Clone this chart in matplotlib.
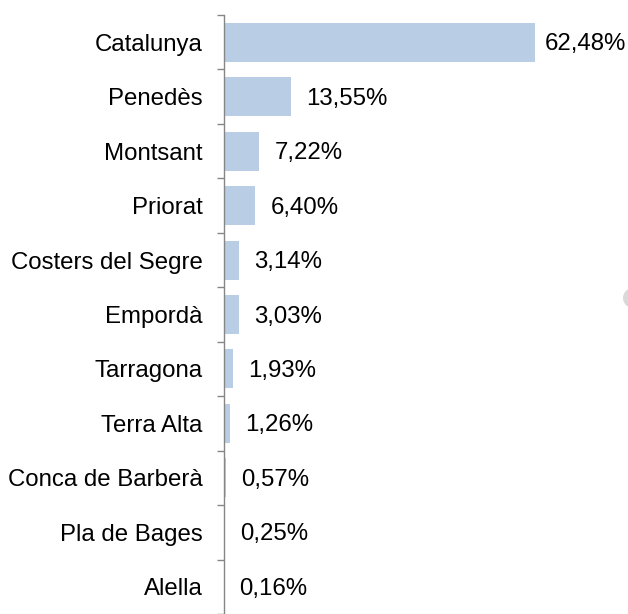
import matplotlib
matplotlib.use("Agg")
import matplotlib.pyplot as plt
from matplotlib.patches import Ellipse
import numpy as np

categories = ["Catalunya", "Penedès", "Montsant", "Priorat", "Costers del Segre",
              "Empordà", "Tarragona", "Terra Alta", "Conca de Barberà",
              "Pla de Bages", "Alella"]
values = [62.48, 13.55, 7.22, 6.40, 3.14, 3.03, 1.93, 1.26, 0.57, 0.25, 0.16]

plt.rcParams['font.family'] = ['Liberation Sans', 'DejaVu Sans']

W, H = 628, 614
dpi = 100
fig = plt.figure(figsize=(W / dpi, H / dpi), dpi=dpi)

axis_x = 223.5
top_px = 15.0
step_px = 55.0
px_per_unit = 4.986
fs = 17.3

ax = fig.add_axes([axis_x / W, 0, 1 - axis_x / W, 1 - top_px / H])
ax.set_xlim(0, (W - axis_x) / px_per_unit)
ax.set_ylim(-0.5 + (H - top_px) / step_px, -0.5)

y = np.arange(len(categories))
ax.barh(y, values, height=0.716, color="#B9CDE5", edgecolor="none")

for s in ["top", "right", "bottom"]:
    ax.spines[s].set_visible(False)
ax.spines["left"].set_color("#868686")
ax.spines["left"].set_linewidth(1.0)

ax.set_xticks([])
ax.set_yticks(y)
ax.set_yticklabels(categories, fontsize=fs, color="black")
ax.set_yticks(np.arange(-0.5, len(categories) + 0.5, 1), minor=True)
ax.tick_params(axis="y", which="major", length=0, pad=15)
ax.tick_params(axis="y", which="minor", length=5, width=1.0, color="#868686", direction="out")

fig.canvas.draw()
renderer = fig.canvas.get_renderer()
for yi, v in zip(y, values):
    label = f"{v:.2f}".replace(".", ",") + "%"
    t = ax.annotate(label, xy=(v, yi), xytext=(11, -1.5), textcoords="offset points",
                    ha="left", va="center", fontsize=fs, color="black")
    bb = t.get_window_extent(renderer)
    if bb.x1 > W - 1:
        shift = (bb.x1 - (W - 2)) * 72 / dpi
        t.set_position((11 - shift, -1.5))

fig.patches.append(Ellipse((633 / W, 1 - 298 / H), 20 / W, 20 / H,
                           transform=fig.transFigure, facecolor="#D9D9D9",
                           edgecolor="none"))

fig.savefig("out.png", dpi=dpi)
